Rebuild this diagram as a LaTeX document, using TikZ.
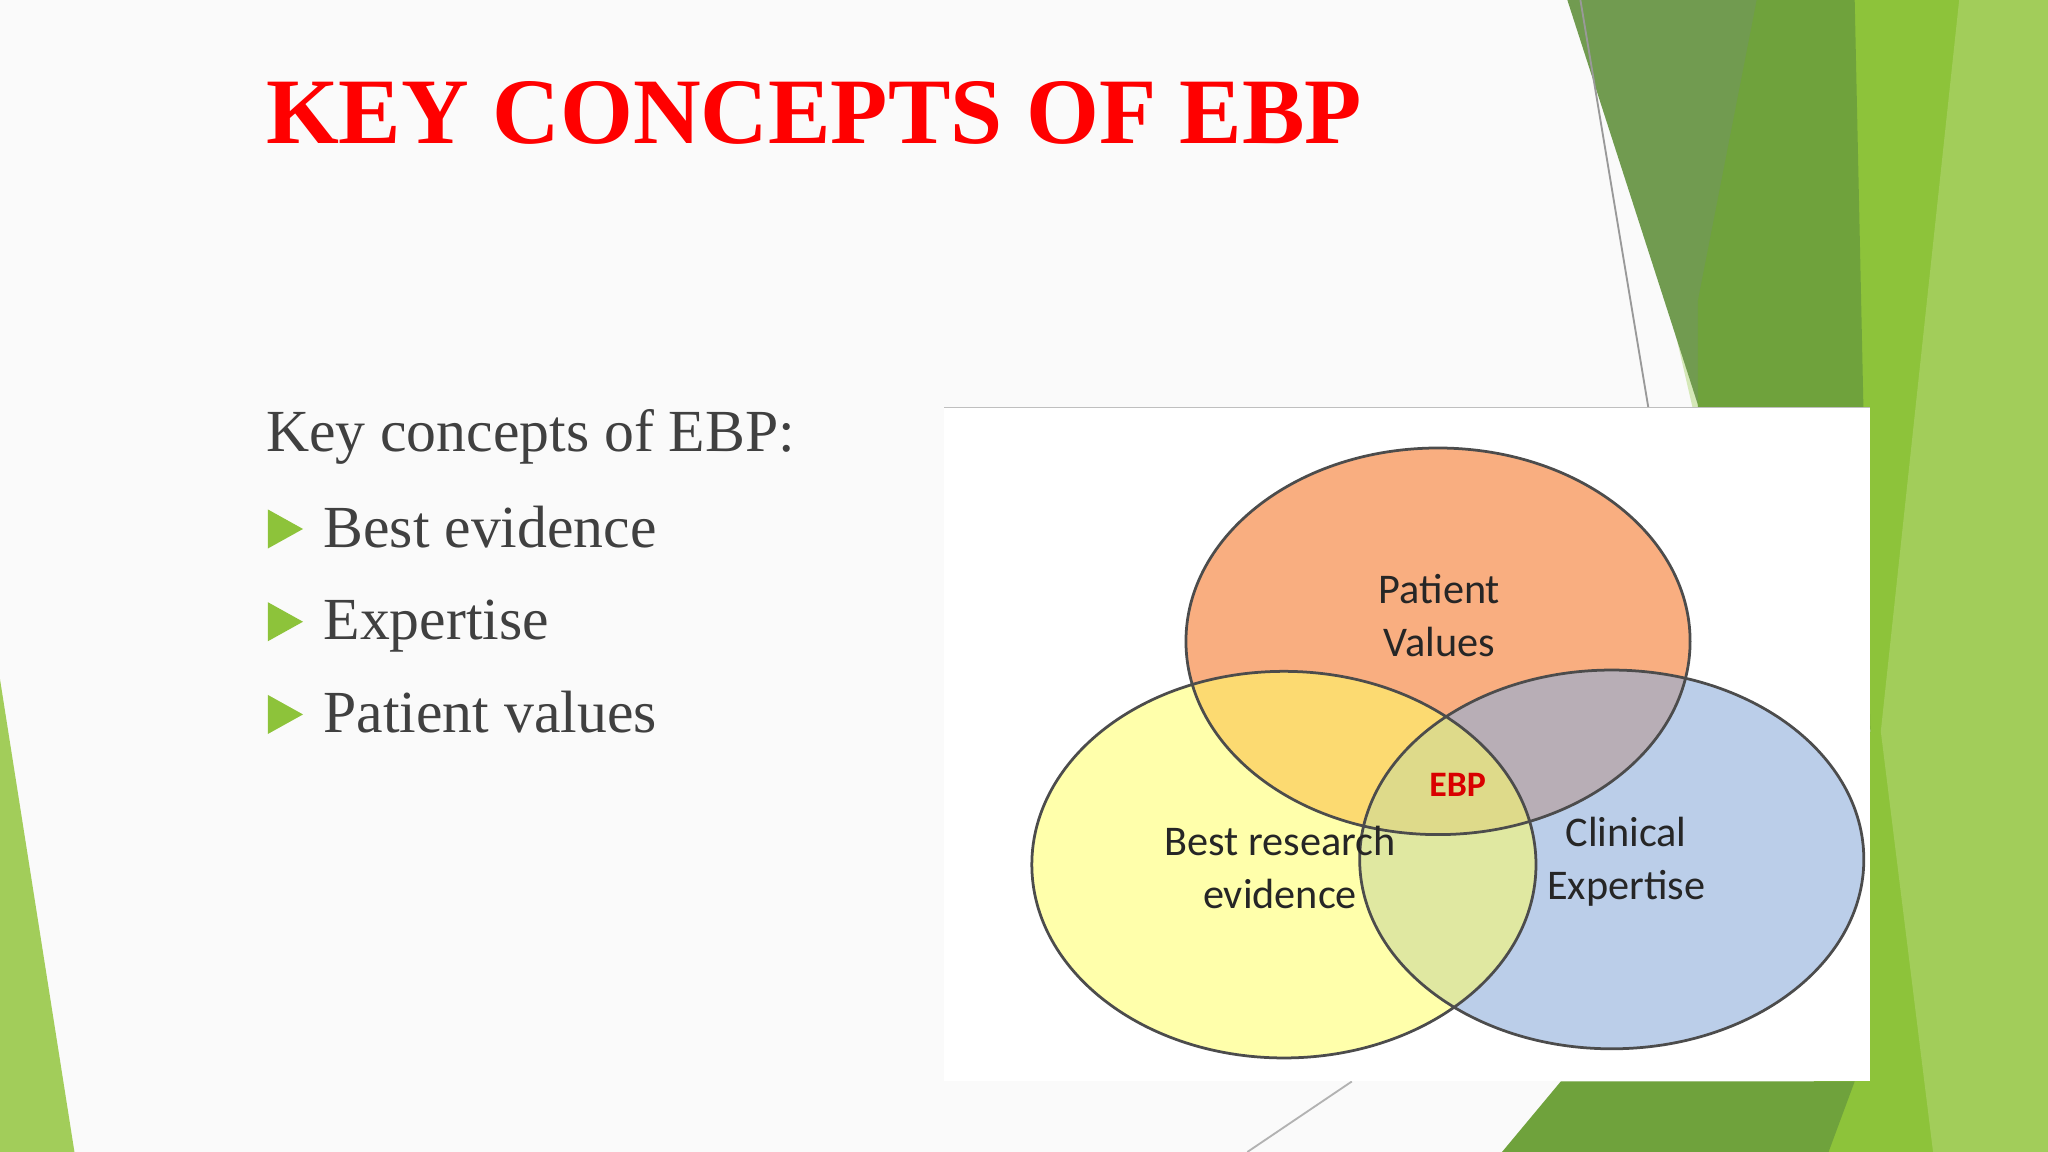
\documentclass[tikz,border=0pt]{standalone}
\usepackage{fontspec}
\setmainfont{Liberation Serif}
\newfontfamily\lblfont{Carlito}
\definecolor{gOlive}{HTML}{719B50}
\definecolor{gMid}{HTML}{6FA23C}
\definecolor{gBright}{HTML}{8DC33A}
\definecolor{gLight}{HTML}{A2CD5A}
\definecolor{gPale}{HTML}{D5E8B8}
\definecolor{vOr}{HTML}{F8A06A}
\definecolor{vYe}{HTML}{FFFF66}
\definecolor{vBl}{HTML}{8EAEDB}
\definecolor{tri}{HTML}{8DC33A}
\begin{document}
\begin{tikzpicture}[x=0.01cm,y=-0.01cm,
  lbl/.style={font=\lblfont\fontsize{9.2}{11.5}\selectfont,align=center,text=black!85},
  bul/.style={font=\fontsize{13}{15}\selectfont,text=black!75,anchor=base west}]
\useasboundingbox (0,0) rectangle (1568,882);
\fill[white!98!black] (0,0) rectangle (1568,882);
% right decorations
\fill[gPale] (1270,200) -- (1320,310) -- (1300,330) -- cycle;
\fill[gBright] (1400,0) -- (1568,0) -- (1568,882) -- (1380,882) -- (1432,560) -- cycle;
\fill[gOlive] (1200,0) -- (1415,0) -- (1330,440) -- (1300,310) -- cycle;
\fill[gMid] (1300,230) -- (1345,0) -- (1420,0) -- (1432,560) -- (1420,600) -- (1300,600) -- cycle;
\fill[gLight] (1500,0) -- (1568,0) -- (1568,882) -- (1480,882) -- (1440,560) -- cycle;
\fill[gMid] (1150,882) -- (1195,828) -- (1420,828) -- (1400,882) -- cycle;
\draw[black!40] (1210,0) -- (1262,312);
\draw[black!30] (955,882) -- (1035,828);
\fill[gLight] (0,520) -- (0,882) -- (57,882) -- cycle;
% title
\node[anchor=base west,text=red,font=\bfseries\fontsize{20.4}{24}\selectfont,inner sep=0] (title) at (203,110) {KEY CONCEPTS OF EBP};
\node[bul,inner sep=0] (head) at (203,346) {Key concepts of EBP:};
\foreach \y/\t/\n in {405/Best evidence/b1,476/Expertise/b2,547/Patient values/b3}{
  \fill[tri] (205,\y-15) -- (232,\y) -- (205,\y+15) -- cycle;
  \node[bul,inner sep=0] (\n) at (247,\y+14) {\t};
}
% image box
\fill[white] (723,312) rectangle (1432,828);
\draw[black!25] (723,312) -- (1432,312);
\fill[fill=vOr,fill opacity=0.85] (1101,491) ellipse (193 and 148);
\fill[fill=vBl,fill opacity=0.6] (1234,658) ellipse (193 and 145);
\fill[fill=vYe,fill opacity=0.55] (983,662) ellipse (193 and 148);
\draw[black!70,line width=0.6pt] (1101,491) ellipse (193 and 148) (983,662) ellipse (193 and 148) (1234,658) ellipse (193 and 145);
\node[lbl] (pv) at (1102,471) {Patient\\ Values};
\node[lbl] (br) at (980,664) {Best research\\ evidence};
\node[lbl] (ce) at (1245,660) {Clinical\\ Expertise};
\node[font=\lblfont\bfseries\fontsize{7.8}{9}\selectfont,text=red!85!black] (ebp) at (1116,601) {EBP};
\end{tikzpicture}
\end{document}
